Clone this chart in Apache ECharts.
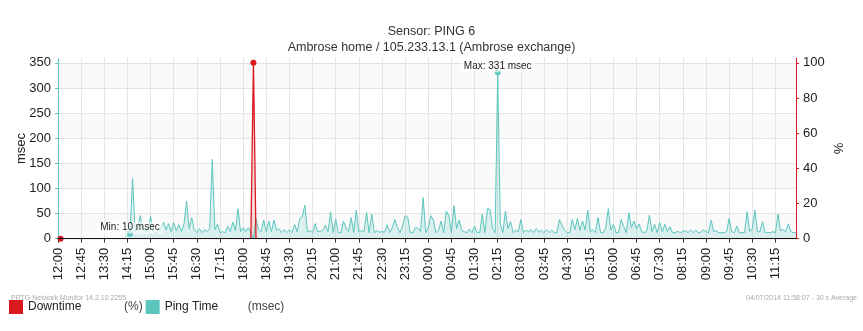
<!DOCTYPE html>
<html><head><meta charset="utf-8">
<script src="https://cdn.jsdelivr.net/npm/echarts@6/dist/echarts.min.js"></script>
<style>html,body{margin:0;padding:0;background:#fff}#c{width:863px;height:331px}</style>
</head><body><div id="c"></div>
<script>
// x domain: 5-minute samples from 12:00 (day 1) to 11:55 (day 2)
const startMinute = 12 * 60;
const stepMinutes = 5;
const pointCount = 288;
const categories = [];
for (let i = 0; i < pointCount; i++) {
  const m = (startMinute + i * stepMinutes) % 1440;
  categories.push(String(Math.floor(m / 60)).padStart(2, '0') + ':' + String(m % 60).padStart(2, '0'));
}

const leftTicks = [0, 50, 100, 150, 200, 250, 300, 350];
const rightTicks = [0, 20, 40, 60, 80, 100];

// Ping Time (msec)
const pingTime = [
  null,null,null,null,null,null,null,null,null,null,null,null,null,null,null,null,null,null,null,null,null,null,null,null,null,null,
  16,14,10,120,14,20,46,18,16,14,45,14,12,14,20,33,18,30,14,32,16,28,14,30,75,20,42,18,12,20,12,18,14,20,
  158,18,29,12,14,12,25,14,33,16,60,14,22,14,22,12,0,40,18,14,37,14,35,14,37,16,20,12,18,12,18,12,28,14,40,44,67,
  14,16,12,30,14,15,16,27,14,53,12,39,12,12,35,22,14,42,12,57,14,16,14,52,12,49,12,16,13,14,13,28,12,22,38,22,12,25,46,43,
  12,12,22,21,14,82,12,22,46,37,12,17,35,12,55,45,12,66,20,37,17,14,12,19,12,25,12,12,49,12,60,58,20,12,
  331,30,12,55,20,34,12,17,14,38,12,17,14,18,12,20,13,17,12,
  18,12,17,12,12,38,27,17,12,12,38,18,40,17,35,17,57,14,18,12,42,12,12,22,60,17,29,12,12,38,24,12,52,22,35,20,29,14,12,16,
  47,14,29,12,32,14,29,14,24,12,12,15,12,14,16,12,17,12,17,12,13,18,14,12,37,14,16,12,12,12,14,40,14,12,25,12,12,12,
  54,14,20,57,14,14,34,12,12,12,14,12,49,16,18,14,29,14,12,12
];

// Downtime (%)
const downtime = [
  null,0,0,0,0,0,0,0,0,0,0,0,0,0,0,0,0,0,0,0,0,0,0,0,0,0,0,0,0,0,0,0,0,0,0,0,0,0,0,0,
  0,0,0,0,0,0,0,0,0,0,0,0,0,0,0,0,0,0,0,0,0,0,0,0,0,0,0,0,0,0,0,0,0,0,0,0,100,0,0,0,
  0,0,0,0,0,0,0,0,0,0,0,0,0,0,0,0,0,0,0,0,0,0,0,0,0,0,0,0,0,0,0,0,0,0,0,0,0,0,0,0,
  0,0,0,0,0,0,0,0,0,0,0,0,0,0,0,0,0,0,0,0,0,0,0,0,0,0,0,0,0,0,0,0,0,0,0,0,0,0,0,0,
  0,0,0,0,0,0,0,0,0,0,0,0,0,0,0,0,0,0,0,0,0,0,0,0,0,0,0,0,0,0,0,0,0,0,0,0,0,0,0,0,
  0,0,0,0,0,0,0,0,0,0,0,0,0,0,0,0,0,0,0,0,0,0,0,0,0,0,0,0,0,0,0,0,0,0,0,0,0,0,0,0,
  0,0,0,0,0,0,0,0,0,0,0,0,0,0,0,0,0,0,0,0,0,0,0,0,0,0,0,0,0,0,0,0,0,0,0,0,0,0,0,0,
  0,0,0,0,0,0,0,0
];

const TEAL = '#5BC5BE', RED = '#D9181F', TXT = '#222';
const FONT = 'Liberation Sans, Arial, sans-serif';

// positive minimum of ping (first occurrence) for the Min marker
let minIdx = -1;
pingTime.forEach((v, i) => { if (v != null && v > 0 && (minIdx < 0 || v < pingTime[minIdx])) minIdx = i; });

const chart = echarts.init(document.getElementById('c'), null, {renderer: 'canvas'});
chart.setOption({
  animation: false,
  backgroundColor: '#fff',
  textStyle: {fontFamily: FONT},
  title: [
    {text: 'Sensor: PING 6', left: 'center', top: 25, padding: 0, textStyle: {fontSize: 12.5, fontWeight: 'normal', color: '#333', fontFamily: FONT}},
    {text: 'Ambrose home / 105.233.13.1 (Ambrose exchange)', left: 'center', top: 41, padding: 0, textStyle: {fontSize: 12.5, fontWeight: 'normal', color: '#333', fontFamily: FONT}},
    {text: 'PRTG Network Monitor 14.2.10.2255', left: 11, top: 295, padding: 0, textStyle: {fontSize: 7, fontWeight: 'normal', color: '#aaa', fontFamily: FONT}},
    {text: '04/07/2014 11:58:07 - 30 s Average', right: 6, top: 295, padding: 0, textStyle: {fontSize: 7, fontWeight: 'normal', color: '#aaa', fontFamily: FONT}}
  ],
  legend: {
    left: 9, top: 300, padding: 0, itemWidth: 14, itemHeight: 14, itemGap: 3, icon: 'rect',
    data: [{name: 'Downtime', itemStyle: {color: RED}}, {name: 'Ping Time', itemStyle: {color: TEAL}}],
    formatter: function (name) {
      return name === 'Downtime' ? '{n1|Downtime}{u|(%)}' : '{n2|Ping Time}{u|(msec)}';
    },
    textStyle: {
      fontSize: 12, color: TXT, fontFamily: FONT,
      rich: {
        n1: {width: 96, fontSize: 12, color: TXT, fontFamily: FONT},
        n2: {width: 83, fontSize: 12, color: TXT, fontFamily: FONT},
        u: {width: 20, fontSize: 12, color: '#444', fontFamily: FONT}
      }
    }
  },
  grid: {left: 58, right: 67, top: 58.3, bottom: 92.3, containLabel: false},
  xAxis: [{
    type: 'category', data: categories, boundaryGap: false, offset: 3,
    axisLine: {lineStyle: {color: '#333', width: 1}},
    axisTick: {interval: 8, length: 4, lineStyle: {color: '#333'}},
    axisLabel: {interval: 8, rotate: 90, margin: 6, fontSize: 13, color: TXT, fontFamily: FONT},
    splitLine: {show: true, interval: 8, lineStyle: {color: '#e4e4e4', width: 1}}
  }, {
    type: 'category', data: categories, boundaryGap: false, position: 'top', z: 5,
    axisLine: {show: true, lineStyle: {color: '#111', width: 1}},
    axisTick: {show: false}, axisLabel: {show: false}, splitLine: {show: false}
  }],
  yAxis: [{
    type: 'value', min: 0, max: 359, interval: 50, position: 'left',
    name: 'msec', nameLocation: 'middle', nameRotate: 90, nameGap: 30, nameMoveOverlap: false,
    nameTextStyle: {fontSize: 13, color: TXT, fontFamily: FONT},
    axisLine: {show: true, lineStyle: {color: TEAL, width: 1}},
    axisTick: {show: true, length: 3, customValues: leftTicks, lineStyle: {color: TEAL}},
    axisLabel: {customValues: leftTicks, margin: 7, fontSize: 13, color: TXT, fontFamily: FONT},
    splitLine: {show: true, lineStyle: {color: '#e4e4e4', width: 1}},
    splitArea: {show: true, areaStyle: {color: ['#fafafa', '#ffffff']}}
  }, {
    type: 'value', min: 0, max: 359 / 3.5, interval: 20, position: 'right',
    name: '%', nameLocation: 'middle', nameRotate: 90, nameGap: 37, nameMoveOverlap: false,
    nameTextStyle: {fontSize: 13, color: TXT, fontFamily: FONT},
    axisLine: {show: true, lineStyle: {color: RED, width: 1}},
    axisTick: {show: true, length: 3, customValues: rightTicks, lineStyle: {color: RED}},
    axisLabel: {customValues: rightTicks, margin: 7, fontSize: 13, color: TXT, fontFamily: FONT},
    splitLine: {show: false}, splitArea: {show: false}
  }],
  series: [{
    name: 'Ping Time', type: 'line', data: pingTime, xAxisIndex: 0, yAxisIndex: 0,
    showSymbol: false, symbol: 'none', connectNulls: false,
    lineStyle: {color: TEAL, width: 1}, itemStyle: {color: TEAL},
    areaStyle: {color: 'rgba(91,197,190,0.28)'},
    markPoint: {
      symbol: 'circle', symbolSize: 6, itemStyle: {color: TEAL},
      label: {show: true, position: 'top', distance: 0, offset: [0, 3], fontSize: 10, color: TXT, fontFamily: FONT,
        backgroundColor: 'rgba(255,255,255,0.6)', padding: [1, 3]},
      data: [
        {name: 'Min', coord: [categories[minIdx], pingTime[minIdx]], value: pingTime[minIdx],
          label: {formatter: 'Min: ' + pingTime[minIdx] + ' msec'}},
        {name: 'Max', type: 'max', label: {formatter: function (p) { return 'Max: ' + p.value + ' msec'; }}}
      ]
    }
  }, {
    name: 'Downtime', type: 'line', data: downtime, xAxisIndex: 0, yAxisIndex: 1,
    showSymbol: false, symbol: 'none',
    lineStyle: {color: RED, width: 1.3}, itemStyle: {color: RED},
    areaStyle: {color: 'rgba(217,24,31,0.22)'},
    markPoint: {
      symbol: 'circle', symbolSize: 6, itemStyle: {color: RED}, label: {show: false},
      data: [{type: 'min', name: 'Min'}, {type: 'max', name: 'Max'}]
    }
  }]
});
</script>
</body></html>
